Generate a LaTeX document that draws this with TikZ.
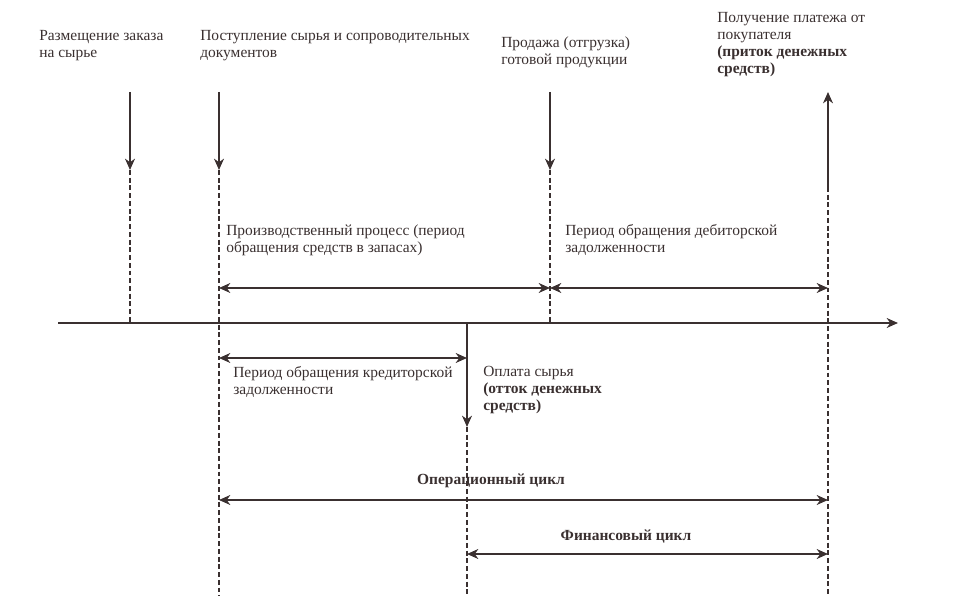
\documentclass[tikz,border=0pt]{standalone}
\usepackage{fontspec}
\setmainfont{Liberation Serif}
\usetikzlibrary{arrows.meta}
\usetikzlibrary{calc}
\definecolor{ink}{RGB}{58,48,48}
\tikzset{
	every node/.style={font=\fontsize{11}{12.2}\selectfont, align=left, inner sep=0pt, text=ink},
	lbl/.style={anchor=north west},
	cyc/.style={font=\fontsize{11}{12.2}\selectfont\bfseries},
	tl/.style={draw=ink, line width=1.5pt},
	dsh/.style={draw=ink, line width=1.5pt, dash pattern=on 3.5pt off 2pt},
}

\begin{document}
\begin{tikzpicture}[>={Stealth[length=8pt,width=7pt,inset=2.5pt]}]
		\useasboundingbox (0,0) rectangle (23.925,-14.9);
		% event lines
		\coordinate (A) at (3.25,0);
		\coordinate (B) at (5.475,0);
		\coordinate (E) at (11.675,0);
		\coordinate (C) at (13.75,0);
		\coordinate (D) at (20.7,0);
		\coordinate (t0) at (1.45,-8.075);
		\coordinate (t1) at (22.45,-8.075);
		\draw[tl,->] (t0) -- (t1);
		\draw[tl,->] ($ (A) + (0,-2.3) $) -- ++(0,-1.95) coordinate (Ah);
		\draw[tl,->] ($ (B) + (0,-2.3) $) -- ++(0,-1.95) coordinate (Bh);
		\draw[tl,->] ($ (C) + (0,-2.3) $) -- ++(0,-1.95) coordinate (Ch);
		\draw[tl,<-] ($ (D) + (0,-2.3) $) -- ++(0,-2.375) coordinate (Dh);
		\draw[tl,->] (E |- t0) -- ++(0,-2.6) coordinate (Eh);
		\draw[dsh] (Ah) -- (Ah |- t0);
		\draw[dsh] (Bh) -- ++(0,-10.65);
		\draw[dsh] (Ch) -- (Ch |- t0);
		\draw[dsh] (Dh) -- ++(0,-10.225);
		\draw[dsh] (Eh) -- ++(0,-4.225);
		% periods
		\draw[tl,<->] ($ (B) + (0,-7.2) $) -- ($ (C) + (0,-7.2) $);
		\draw[tl,<->] ($ (C) + (0,-7.2) $) -- ($ (D) + (0,-7.2) $);
		\draw[tl,<->] ($ (B) + (0,-8.95) $) -- ($ (E) + (0,-8.95) $);
		\draw[tl,<->] ($ (B) + (0,-12.5) $) -- ($ (D) + (0,-12.5) $);
		\draw[tl,<->] ($ (E) + (0,-13.85) $) -- ($ (D) + (0,-13.85) $);
		% labels
		\node[lbl] (order) at (0.975,-0.75) {Размещение заказа\\на сырье};
		\node[lbl] (supply) at (5.0,-0.75) {Поступление сырья и сопроводительных\\документов};
		\node[lbl] (sale) at (12.525,-0.9) {Продажа (отгрузка)\\готовой продукции};
		\node[lbl] (pay) at (17.925,-0.3) {Получение платежа от\\покупателя\\\textbf{(приток денежных}\\\textbf{средств)}};
		\node[lbl] (prod) at (5.65,-5.6) {Производственный процесс (период\\обращения средств в запасах)};
		\node[lbl] (recv) at (14.125,-5.6) {Период обращения дебиторской\\задолженности};
		\node[lbl] (cred) at (5.825,-9.15) {Период обращения кредиторской\\задолженности};
		\node[lbl] (out) at (12.075,-9.15) {Оплата сырья\\\textbf{(отток денежных}\\\textbf{средств)}};
		\node[cyc] (oper) at (12.275,-12.025) {Операционный цикл};
		\node[cyc] (fin) at (15.65,-13.425) {Финансовый цикл};
	\end{tikzpicture}
\end{document}
